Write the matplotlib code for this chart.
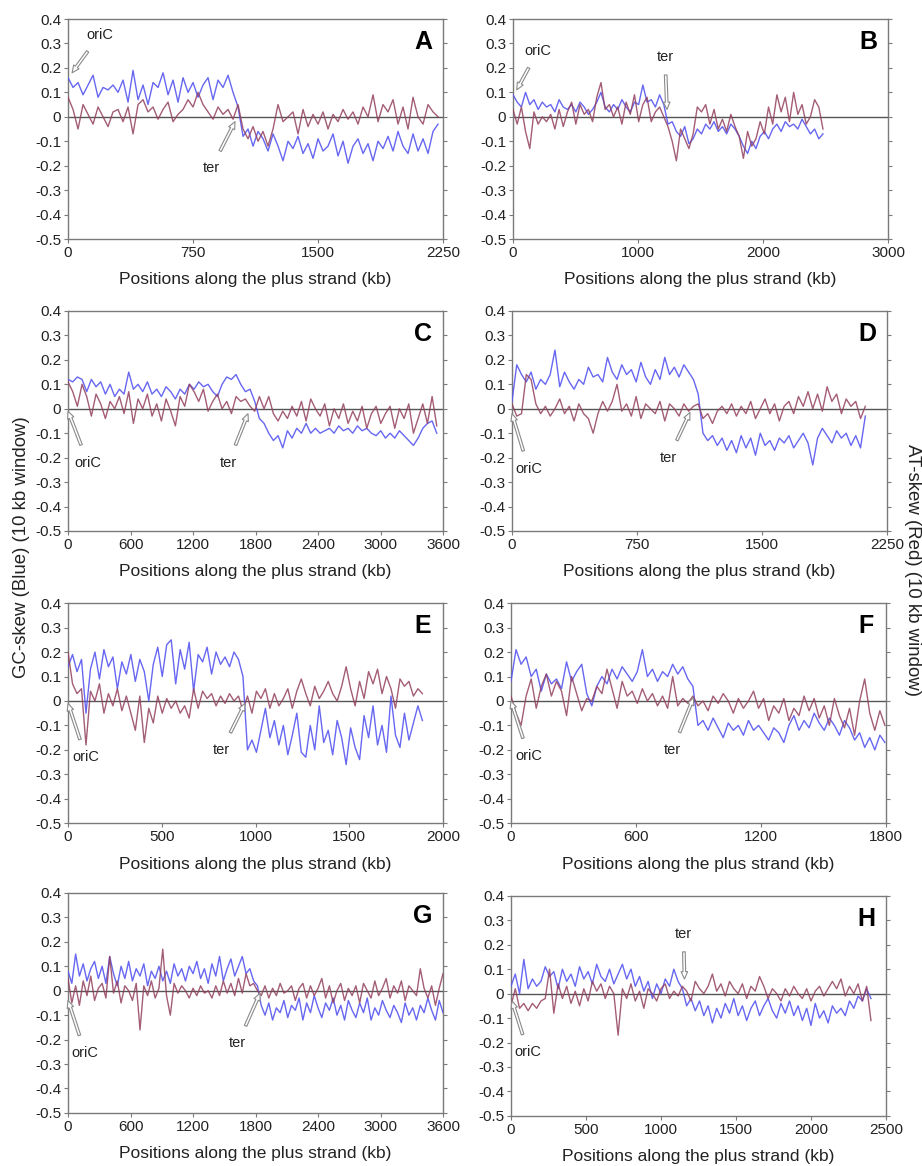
import numpy as np
import matplotlib
matplotlib.use("Agg")
import matplotlib.pyplot as plt

plt.rcParams['font.family'] = ['Liberation Sans', 'DejaVu Sans']

# genome lengths (kb) covered by the 10 kb windows of each panel
a_end, b_end, c_end, d_end = 2220, 2480, 3540, 2120
e_end, f_end, g_end, h_end = 1890, 1795, 3600, 2400

# GC-skew (blue) and AT-skew (red) values
a_gc = [0.16, 0.12, 0.14, 0.09, 0.13, 0.17, 0.08, 0.12, 0.11, 0.13, 0.10, 0.15, 0.06, 0.19, 0.07,
        0.13, 0.05, 0.14, 0.12, 0.18, 0.09, 0.15, 0.06, 0.16, 0.10, 0.14, 0.08, 0.13, 0.16, 0.07,
        0.15, 0.12, 0.17, 0.10, 0.04, -0.08, -0.05, -0.12, -0.06, -0.09, -0.14, -0.07, -0.12, -0.18, -0.10,
        -0.13, -0.08, -0.15, -0.11, -0.17, -0.09, -0.14, -0.12, -0.07, -0.16, -0.10, -0.19, -0.12, -0.09, -0.15,
        -0.11, -0.18, -0.10, -0.13, -0.08, -0.14, -0.06, -0.12, -0.15, -0.07, -0.14, -0.09, -0.15, -0.06, -0.03]
a_at = [0.08, 0.03, -0.05, 0.05, 0.01, -0.03, 0.04, 0.00, -0.04, 0.02, 0.03, -0.02, 0.04, -0.07, 0.05,
        0.07, 0.02, 0.04, -0.01, 0.03, 0.06, -0.02, 0.01, 0.03, 0.07, 0.04, 0.10, 0.05, 0.02, -0.01,
        0.04, 0.01, 0.03, -0.01, 0.05, -0.05, -0.09, -0.04, -0.10, -0.06, -0.12, -0.05, 0.05, -0.02, 0.00,
        0.02, -0.07, 0.03, -0.04, 0.01, -0.03, 0.02, -0.05, 0.01, -0.02, 0.03, -0.01, 0.02, -0.03, 0.04,
        0.00, 0.09, -0.02, 0.05, 0.02, 0.07, -0.03, 0.04, -0.05, 0.08, 0.00, -0.03, 0.05, 0.02, 0.00]

b_gc = [0.09, 0.06, 0.04, 0.10, 0.05, 0.07, 0.03, 0.06, 0.04, 0.05, 0.02, 0.07, 0.04, 0.03, 0.05,
        0.02, 0.06, 0.04, 0.01, 0.03, 0.06, 0.10, 0.04, 0.02, 0.05, 0.03, 0.07, 0.04, 0.02, 0.06,
        0.05, 0.13, 0.06, 0.07, 0.04, 0.09, 0.05, -0.03, -0.02, -0.06, -0.08, -0.04, -0.11, -0.09, -0.05,
        -0.07, -0.03, -0.05, -0.02, -0.06, -0.04, -0.07, -0.03, -0.05, -0.08, -0.12, -0.15, -0.10, -0.13, -0.08,
        -0.06, -0.09, -0.05, -0.03, -0.06, -0.02, -0.04, -0.03, -0.05, -0.01, -0.04, -0.07, -0.05, -0.09, -0.07]
b_at = [0.03, -0.03, 0.04, -0.06, -0.13, 0.02, -0.03, 0.00, -0.02, 0.01, -0.05, 0.03, -0.04, 0.02, 0.06,
        -0.03, 0.05, 0.01, 0.03, -0.02, 0.08, 0.14, 0.03, 0.05, 0.00, 0.04, -0.03, 0.06, 0.01, 0.09,
        -0.02, 0.05, 0.08, -0.02, 0.02, 0.04, 0.00, -0.04, -0.10, -0.18, -0.05, -0.09, -0.13, -0.07, 0.04,
        0.02, 0.05, -0.03, 0.03, -0.05, -0.01, -0.06, 0.01, -0.04, -0.08, -0.17, -0.06, -0.12, -0.09, -0.02,
        -0.07, 0.04, -0.03, 0.09, 0.02, 0.08, -0.02, 0.10, 0.01, 0.05, -0.03, 0.00, 0.07, 0.04, -0.05]

c_gc = [0.12, 0.11, 0.13, 0.12, 0.07, 0.12, 0.09, 0.11, 0.06, 0.10, 0.05, 0.08, 0.06, 0.15, 0.08,
        0.10, 0.07, 0.11, 0.06, 0.08, 0.05, 0.09, 0.07, 0.04, 0.08, 0.06, 0.10, 0.08, 0.11, 0.09,
        0.10, 0.07, 0.05, 0.10, 0.13, 0.12, 0.14, 0.10, 0.07, 0.08, 0.03, -0.04, -0.06, -0.10, -0.13,
        -0.11, -0.16, -0.09, -0.12, -0.08, -0.10, -0.06, -0.10, -0.08, -0.10, -0.09, -0.08, -0.10, -0.07, -0.09,
        -0.08, -0.10, -0.07, -0.09, -0.08, -0.10, -0.11, -0.09, -0.12, -0.10, -0.12, -0.09, -0.11, -0.13, -0.15,
        -0.12, -0.08, -0.06, -0.05, -0.10]
c_at = [0.11, 0.07, 0.01, 0.10, 0.05, -0.03, 0.06, 0.02, -0.04, 0.03, 0.00, 0.05, -0.02, 0.07, -0.06,
        0.04, 0.00, 0.06, -0.03, 0.02, -0.05, 0.04, -0.01, -0.07, 0.05, 0.01, 0.10, 0.07, 0.03, 0.08,
        -0.01, 0.03, 0.06, 0.00, 0.03, -0.02, 0.05, 0.03, 0.04, 0.01, -0.01, 0.05, 0.00, 0.05, -0.02,
        -0.05, -0.01, -0.04, 0.01, -0.03, 0.03, -0.05, 0.04, 0.00, -0.03, 0.02, -0.07, 0.00, -0.04, 0.02,
        -0.06, -0.01, -0.05, 0.01, -0.08, -0.02, 0.01, -0.06, -0.02, 0.01, -0.08, 0.00, -0.04, 0.02, -0.10,
        -0.04, 0.02, -0.06, 0.05, -0.07]

d_gc = [0.03, 0.18, 0.14, 0.11, 0.15, 0.08, 0.12, 0.10, 0.14, 0.24, 0.09, 0.15, 0.11, 0.08, 0.12,
        0.10, 0.17, 0.13, 0.14, 0.11, 0.21, 0.15, 0.12, 0.18, 0.14, 0.16, 0.11, 0.19, 0.13, 0.10,
        0.16, 0.12, 0.21, 0.14, 0.17, 0.13, 0.18, 0.15, 0.12, 0.06, -0.10, -0.13, -0.11, -0.15, -0.12,
        -0.17, -0.13, -0.18, -0.11, -0.16, -0.12, -0.19, -0.10, -0.15, -0.13, -0.17, -0.12, -0.14, -0.11, -0.16,
        -0.13, -0.10, -0.14, -0.23, -0.12, -0.08, -0.11, -0.14, -0.09, -0.12, -0.10, -0.15, -0.11, -0.16, -0.03]
d_at = [0.02, -0.03, -0.02, 0.14, 0.12, 0.02, -0.02, 0.01, -0.03, 0.00, 0.04, -0.02, 0.01, -0.05, 0.02,
        -0.02, -0.04, -0.10, -0.02, 0.03, -0.01, 0.03, 0.10, -0.01, 0.02, -0.03, 0.05, -0.04, 0.02, 0.00,
        -0.02, 0.03, -0.05, 0.02, 0.00, -0.03, 0.02, -0.01, 0.01, 0.02, -0.04, -0.02, -0.06, -0.01, 0.01,
        -0.02, 0.02, -0.03, 0.01, -0.02, 0.03, -0.04, 0.00, 0.04, -0.02, 0.02, -0.05, 0.01, 0.03, -0.02,
        0.05, 0.01, 0.07, 0.00, 0.06, -0.01, 0.09, 0.03, 0.06, -0.02, 0.04, 0.01, 0.03, -0.04, 0.01]

e_gc = [0.14, 0.19, 0.12, 0.17, -0.05, 0.13, 0.20, 0.09, 0.21, 0.14, 0.18, 0.05, 0.16, 0.11, 0.19,
        0.08, 0.17, 0.12, 0.00, 0.15, 0.22, 0.10, 0.23, 0.25, 0.07, 0.21, 0.13, 0.24, 0.04, 0.19,
        0.16, 0.22, 0.11, 0.20, 0.15, 0.18, 0.14, 0.20, 0.17, 0.10, -0.20, -0.16, -0.21, -0.12, -0.03,
        -0.15, -0.08, -0.18, -0.10, -0.22, -0.14, -0.05, -0.21, -0.23, -0.10, -0.20, -0.02, -0.17, -0.12, -0.22,
        -0.08, -0.15, -0.26, -0.11, -0.19, -0.24, -0.06, -0.15, -0.02, -0.18, -0.10, -0.21, 0.02, -0.14, -0.19,
        -0.05, -0.16, -0.09, -0.02, -0.08]
e_at = [0.20, 0.07, 0.03, 0.05, -0.18, 0.04, 0.00, 0.07, -0.05, 0.03, -0.02, 0.05, -0.04, 0.02, -0.05,
        -0.12, 0.02, -0.17, -0.03, -0.09, 0.02, -0.05, 0.01, -0.03, 0.00, -0.05, -0.02, -0.07, 0.05, -0.03,
        0.04, 0.01, 0.03, -0.02, 0.02, -0.01, 0.03, 0.00, 0.02, -0.04, 0.02, -0.05, 0.04, 0.01, 0.05,
        -0.03, 0.03, -0.02, 0.01, 0.05, -0.03, 0.04, 0.09, 0.03, -0.02, 0.06, 0.01, 0.04, 0.08, 0.03,
        0.00, 0.06, 0.14, 0.05, -0.02, 0.08, 0.01, 0.12, 0.07, 0.13, 0.03, 0.10, 0.05, -0.03, 0.09,
        0.06, 0.08, 0.02, 0.05, 0.03]

f_gc = [0.08, 0.21, 0.15, 0.18, 0.10, 0.13, 0.04, 0.11, 0.07, 0.09, 0.05, 0.16, 0.08, 0.12, 0.15,
        0.03, -0.02, 0.06, 0.10, 0.07, 0.13, 0.09, 0.14, 0.11, 0.08, 0.12, 0.21, 0.10, 0.13, 0.08,
        0.12, 0.10, 0.15, 0.11, 0.14, 0.09, 0.06, -0.10, -0.08, -0.12, -0.07, -0.11, -0.15, -0.09, -0.12,
        -0.10, -0.14, -0.08, -0.12, -0.10, -0.13, -0.16, -0.11, -0.13, -0.17, -0.10, -0.06, -0.12, -0.08, -0.11,
        -0.05, -0.09, -0.12, -0.07, -0.10, -0.14, -0.08, -0.11, -0.16, -0.13, -0.19, -0.15, -0.20, -0.14, -0.17]
f_at = [0.02, -0.05, -0.10, 0.02, 0.09, -0.03, 0.06, 0.11, 0.02, 0.08, 0.04, -0.06, 0.10, 0.03, -0.04,
        0.01, 0.00, 0.06, 0.03, 0.13, 0.05, -0.03, 0.08, 0.02, 0.04, -0.01, 0.05, 0.00, 0.03, -0.02,
        0.02, -0.03, 0.10, -0.02, 0.01, -0.01, 0.02, -0.02, 0.00, -0.04, 0.02, -0.01, 0.03, 0.00, -0.05,
        0.01, -0.03, 0.00, 0.04, -0.03, 0.01, -0.08, -0.02, -0.05, 0.01, -0.08, -0.03, -0.06, 0.02, -0.04,
        0.01, -0.07, -0.02, -0.10, 0.01, -0.06, -0.11, -0.03, -0.14, 0.00, 0.09, -0.05, -0.12, -0.04, -0.10]

g_gc = [0.08, 0.03, 0.15, 0.06, 0.11, 0.04, 0.09, 0.12, 0.05, 0.10, 0.03, 0.14, 0.07, 0.02, 0.10,
        0.05, 0.12, 0.04, 0.09, 0.06, 0.11, 0.02, 0.08, 0.05, 0.10, 0.04, 0.08, 0.03, 0.11, 0.06,
        0.09, 0.04, 0.10, 0.07, 0.12, 0.05, 0.09, 0.03, 0.11, 0.06, 0.14, 0.04, 0.09, 0.13, 0.06,
        0.10, 0.14, 0.07, 0.09, 0.04, 0.02, -0.06, -0.10, -0.05, -0.12, -0.07, -0.09, -0.04, -0.11, -0.06,
        -0.08, -0.03, -0.12, -0.05, -0.09, -0.02, -0.07, -0.11, -0.05, -0.08, -0.03, -0.10, -0.06, -0.12, -0.04,
        -0.08, -0.11, -0.05, -0.09, -0.03, -0.12, -0.07, -0.10, -0.04, -0.08, -0.11, -0.06, -0.09, -0.13, -0.05,
        -0.10, -0.07, -0.12, -0.06, -0.09, -0.03, -0.08, -0.12, -0.04, -0.09]
g_at = [0.05, -0.05, 0.02, -0.06, 0.04, -0.02, 0.06, -0.04, 0.01, 0.03, -0.03, 0.14, -0.01, 0.04, -0.05,
        0.02, 0.00, -0.04, 0.03, -0.16, 0.02, -0.02, 0.04, -0.03, 0.01, 0.17, -0.02, -0.10, 0.03, -0.01,
        0.02, 0.00, -0.03, 0.01, -0.02, 0.02, -0.01, 0.00, -0.03, 0.02, -0.02, 0.04, -0.01, 0.03, -0.02,
        0.05, -0.01, 0.07, 0.02, 0.03, 0.00, -0.02, 0.02, -0.03, 0.01, -0.02, 0.03, -0.01, 0.00, 0.02,
        -0.04, 0.01, 0.03, -0.03, 0.02, -0.02, 0.01, 0.05, -0.03, 0.02, -0.05, 0.00, 0.03, -0.04, 0.01,
        -0.02, 0.02, -0.05, 0.03, 0.00, -0.03, 0.04, -0.02, 0.01, 0.05, -0.03, 0.02, -0.01, 0.04, -0.04,
        0.02, 0.00, -0.02, 0.09, 0.01, -0.03, 0.02, -0.06, 0.01, 0.07]

h_gc = [0.03, 0.08, 0.00, 0.14, 0.02, 0.06, 0.03, 0.05, 0.11, 0.07, 0.09, 0.02, 0.10, 0.05, 0.08,
        0.03, 0.11, 0.06, 0.09, 0.04, 0.12, 0.07, 0.05, 0.10, 0.04, 0.08, 0.12, 0.06, 0.10, 0.03,
        0.07, 0.01, 0.05, -0.02, 0.04, 0.00, 0.06, 0.03, 0.10, 0.05, 0.02, -0.05, -0.02, -0.07, -0.03,
        -0.09, -0.05, -0.12, -0.06, -0.10, -0.04, -0.08, -0.02, -0.09, -0.05, -0.11, -0.06, -0.03, -0.09, -0.05,
        -0.02, -0.07, -0.10, -0.04, -0.08, -0.03, -0.09, -0.05, -0.11, -0.06, -0.13, -0.04, -0.10, -0.07, -0.12,
        -0.05, -0.08, -0.06, -0.09, -0.03, -0.06, -0.01, -0.03, 0.02, -0.02]
h_at = [-0.05, 0.02, -0.06, -0.04, -0.07, -0.04, -0.06, -0.03, -0.02, 0.10, -0.08, 0.04, -0.02, 0.03, -0.04,
        0.01, -0.05, 0.02, -0.03, 0.05, 0.01, 0.04, -0.02, 0.03, 0.00, -0.17, 0.02, -0.02, 0.04, -0.03,
        0.01, -0.06, 0.02, 0.00, -0.03, 0.02, 0.04, -0.02, 0.01, -0.01, 0.03, 0.01, -0.03, 0.05, 0.02,
        0.00, 0.03, 0.08, 0.01, 0.04, -0.01, 0.05, 0.02, 0.00, 0.04, -0.02, 0.03, 0.01, 0.07, 0.03,
        -0.02, 0.02, 0.00, -0.03, 0.02, -0.01, 0.03, 0.00, -0.02, 0.02, -0.03, 0.01, 0.03, -0.01, 0.02,
        0.05, 0.02, 0.06, -0.01, 0.03, 0.00, 0.04, -0.03, 0.03, -0.11]

x_ticks = {
    'A': [0, 750, 1500, 2250], 'B': [0, 1000, 2000, 3000],
    'C': [0, 600, 1200, 1800, 2400, 3000, 3600], 'D': [0, 750, 1500, 2250],
    'E': [0, 500, 1000, 1500, 2000], 'F': [0, 600, 1200, 1800],
    'G': [0, 600, 1200, 1800, 2400, 3000, 3600], 'H': [0, 500, 1000, 1500, 2000, 2500],
}
y_ticks = [0.4, 0.3, 0.2, 0.1, 0, -0.1, -0.2, -0.3, -0.4, -0.5]
y_labels = ['0.4', '0.3', '0.2', '0.1', '0', '-0.1', '-0.2', '-0.3', '-0.4', '-0.5']

# (text position, arrow tip) for oriC and ter labels, data coords
marks = {
    'A': [((190, 0.335), (24, 0.18)), ((860, -0.21), (1002, -0.02))],
    'B': [((200, 0.27), (30, 0.11)), ((1216, 0.245), (1232, 0.03))],
    'C': [((190, -0.22), (0, -0.01)), ((1540, -0.22), (1728, -0.02))],
    'D': [((100, -0.245), (0, -0.02)), ((940, -0.2), (1068, -0.015))],
    'E': [((95, -0.23), (0, -0.01)), ((820, -0.2), (944, -0.01))],
    'F': [((85, -0.225), (0, 0.0)), ((775, -0.2), (876, 0.013))],
    'G': [((165, -0.255), (0, -0.04)), ((1630, -0.215), (1843, -0.01))],
    'H': [((115, -0.24), (7, -0.03)), ((1150, 0.245), (1157, 0.06))],
}

panels = [
    ('A', a_end, a_gc, a_at, [0.0738, 0.795]),
    ('B', b_end, b_gc, b_at, [0.5564, 0.795]),
    ('C', c_end, c_gc, c_at, [0.0738, 0.5446]),
    ('D', d_end, d_gc, d_at, [0.5553, 0.5446]),
    ('E', e_end, e_gc, e_at, [0.0738, 0.294]),
    ('F', f_end, f_gc, f_at, [0.5542, 0.294]),
    ('G', g_end, g_gc, g_at, [0.0738, 0.0455]),
    ('H', h_end, h_gc, h_at, [0.5542, 0.043]),
]

blue = '#5656f0'
red = '#93405f'
frame = '#7a7a7a'

fig = plt.figure(figsize=(9.22, 11.66), dpi=100)

for name, end, gc, at, (left, bottom) in panels:
    ax = fig.add_axes([left, bottom, 0.4067, 0.1887])
    ticks = x_ticks[name]
    ax.plot(np.linspace(0, end, len(gc)), gc, color=blue, lw=1.0, alpha=0.9, zorder=3)
    ax.plot(np.linspace(0, end, len(at)), at, color=red, lw=1.0, alpha=0.85, zorder=4)
    ax.axhline(0, color='#555555', lw=1.0, zorder=2)
    ax.set_xlim(0, ticks[-1])
    ax.set_ylim(-0.5, 0.4)
    ax.set_xticks(ticks)
    ax.set_xticklabels([str(t) for t in ticks])
    ax.set_yticks(y_ticks)
    ax.set_yticklabels(y_labels)
    for s in ax.spines.values():
        s.set_color(frame)
        s.set_linewidth(1.0)
    ax.tick_params(axis='both', colors=frame, labelcolor='#222222', labelsize=11,
                   direction='out', length=3, width=0.8, pad=2)
    ax.tick_params(axis='y', right=True)
    ax.set_xlabel('Positions along the plus strand (kb)', fontsize=12.5, color='#222222', labelpad=9)
    ax.text(0.947, 0.895, name, transform=ax.transAxes, fontsize=18, fontweight='bold',
            ha='center', va='center')
    for (txt_xy, tip_xy), lab in zip(marks[name], ['oriC', 'ter']):
        ax.annotate(lab, xy=tip_xy, xytext=txt_xy, fontsize=10.5, color='#222222',
                    ha='center', va='center', zorder=6,
                    arrowprops=dict(arrowstyle='simple,head_length=0.5,head_width=0.45,tail_width=0.18',
                                    fc='white', ec='#8a8a8a', lw=0.8, shrinkA=6, shrinkB=0))

fig.text(0.023, 0.531, 'GC-skew (Blue) (10 kb window)', rotation=90, fontsize=13.4,
         ha='center', va='center', color='#222222')
fig.text(0.99, 0.511, 'AT-skew (Red) (10 kb window)', rotation=270, fontsize=13.4,
         ha='center', va='center', color='#222222')

fig.savefig('out.png', dpi=100)
